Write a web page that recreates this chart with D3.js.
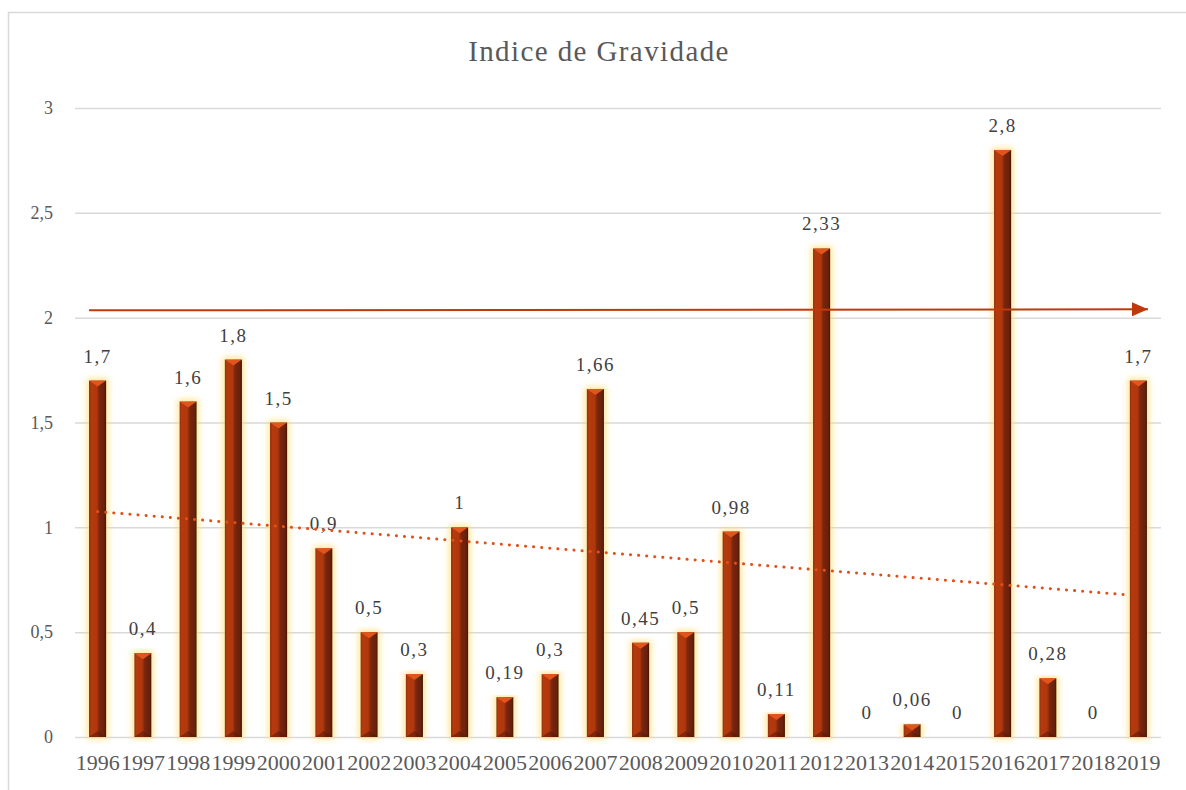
<!DOCTYPE html>
<html>
<head>
<meta charset="utf-8">
<title>Indice de Gravidade</title>
<script src="https://cdnjs.cloudflare.com/ajax/libs/d3/7.8.5/d3.min.js"></script>
</head>
<body style="margin:0;background:#fff">
<svg id="canvas" width="1186" height="790"></svg>
<script>
// data
var years = ["1996","1997","1998","1999","2000","2001","2002","2003","2004","2005","2006","2007",
             "2008","2009","2010","2011","2012","2013","2014","2015","2016","2017","2018","2019"];
var values = [1.7, 0.4, 1.6, 1.8, 1.5, 0.9, 0.5, 0.3, 1, 0.19, 0.3, 1.66,
              0.45, 0.5, 0.98, 0.11, 2.33, 0, 0.06, 0, 2.8, 0.28, 0, 1.7];
var yTicks = [0, 0.5, 1, 1.5, 2, 2.5, 3];
var trendEnds = [1.075, 0.677];   // dotted trend line, first and last year
var arrowEnds = [2.035, 2.04];    // arrow line level

var rows = years.map(function(yr, i) { return {year: yr, value: values[i]}; });
var FONT = "'Liberation Serif', 'Times New Roman', serif";

var svg = d3.select("#canvas");
var margin = {top: 108, right: 25, bottom: 53, left: 75};
var width = 1186 - margin.left - margin.right;
var height = 790 - margin.top - margin.bottom;

var fmt = function(v) { return String(v).replace(".", ","); };

// chart frame
svg.append("rect")
    .attr("x", 8.5).attr("y", 12.5)
    .attr("width", 1200).attr("height", 800)
    .attr("fill", "none")
    .attr("stroke", "#d9d9d9")
    .attr("stroke-width", 1.5);

svg.append("text")
    .attr("x", 599).attr("y", 61)
    .attr("text-anchor", "middle")
    .style("font-family", FONT)
    .style("font-size", "29px")
    .style("letter-spacing", "1.4px")
    .attr("fill", "#595959")
    .text("Indice de Gravidade");

var defs = svg.append("defs");
var grad = defs.append("linearGradient").attr("id", "barGrad")
    .attr("x1", "0%").attr("x2", "100%").attr("y1", "0%").attr("y2", "0%");
[["0%", "#8e2b0c"], ["12%", "#b53a10"], ["45%", "#b0370f"], ["60%", "#7a260a"],
 ["88%", "#672008"], ["100%", "#4a1505"]].forEach(function(s) {
    grad.append("stop").attr("offset", s[0]).attr("stop-color", s[1]);
});

var glow = defs.append("filter").attr("id", "glow")
    .attr("x", "-60%").attr("y", "-5%").attr("width", "220%").attr("height", "110%");
glow.append("feMorphology").attr("in", "SourceAlpha").attr("operator", "dilate")
    .attr("radius", 2).attr("result", "d");
glow.append("feGaussianBlur").attr("in", "d").attr("stdDeviation", 3).attr("result", "b");
glow.append("feFlood").attr("flood-color", "#ffd966").attr("flood-opacity", 0.7);
glow.append("feComposite").attr("in2", "b").attr("operator", "in").attr("result", "g");
var merge = glow.append("feMerge");
merge.append("feMergeNode").attr("in", "g");
merge.append("feMergeNode").attr("in", "SourceGraphic");

var g = svg.append("g")
    .attr("transform", "translate(" + margin.left + "," + margin.top + ")");

// scales
var x = d3.scaleBand().domain(years).range([0, width]).paddingInner(0.62).paddingOuter(0.31);
var y = d3.scaleLinear().domain([0, 3]).range([height, 0]);

// grid + y labels
var yAxis = g.append("g")
    .call(d3.axisLeft(y).tickValues(yTicks).tickSize(-width).tickFormat(fmt).tickPadding(22));
yAxis.select(".domain").remove();
yAxis.selectAll(".tick line").attr("stroke", "#d9d9d9").attr("stroke-width", 1.5);
yAxis.selectAll(".tick text")
    .style("font-family", FONT).style("font-size", "18px")
    .attr("fill", "#595959");

// x labels
var xAxis = g.append("g")
    .attr("transform", "translate(0," + height + ")")
    .call(d3.axisBottom(x).tickSize(0).tickPadding(17));
xAxis.select(".domain").remove();
xAxis.selectAll(".tick text")
    .style("font-family", FONT).style("font-size", "22px")
    .attr("fill", "#595959");

// bars
var bars = g.selectAll(".bar").data(rows.filter(function(d) { return d.value > 0; }))
  .enter().append("g")
    .attr("class", "bar")
    .attr("filter", "url(#glow)");

bars.append("rect")
    .attr("x", function(d) { return x(d.year); })
    .attr("y", function(d) { return y(d.value); })
    .attr("width", x.bandwidth())
    .attr("height", function(d) { return height - y(d.value); })
    .attr("fill", "url(#barGrad)");

// top bevel
bars.append("path")
    .attr("d", function(d) {
        var x0 = x(d.year), w = x.bandwidth(), t = y(d.value);
        var h = Math.min(6, height - t);
        return "M" + x0 + "," + t + "L" + (x0 + w) + "," + t + "L" + (x0 + w / 2) + "," + (t + h) + "Z";
    })
    .attr("fill", "#e0541c");

// bottom bevel
bars.filter(function(d) { return d.value > 0.05; }).append("path")
    .attr("d", function(d) {
        var x0 = x(d.year), w = x.bandwidth(), b = height;
        return "M" + x0 + "," + b + "L" + (x0 + w) + "," + b + "L" + (x0 + w / 2) + "," + (b - 6) + "Z";
    })
    .attr("fill", "#5a1a06").attr("opacity", 0.55);

// data labels
g.selectAll(".lbl").data(rows).enter().append("text")
    .attr("class", "lbl")
    .attr("x", function(d) { return x(d.year) + x.bandwidth() / 2; })
    .attr("y", function(d) { return y(d.value) - 18; })
    .attr("text-anchor", "middle")
    .style("font-family", FONT).style("font-size", "19px")
    .style("letter-spacing", "1.5px")
    .attr("fill", "#404040")
    .text(function(d) { return fmt(d.value); });

// arrow line
defs.append("marker").attr("id", "arrow")
    .attr("viewBox", "0 0 10 10").attr("refX", 10).attr("refY", 5)
    .attr("markerWidth", 8).attr("markerHeight", 7).attr("markerUnits", "strokeWidth")
    .attr("orient", "auto")
    .attr("preserveAspectRatio", "none")
    .append("path").attr("d", "M0,0L10,5L0,10Z").attr("fill", "#c0390b");

g.append("line")
    .attr("x1", x(years[0]))
    .attr("y1", y(arrowEnds[0]))
    .attr("x2", x(years[years.length - 1]) + x.bandwidth() + 1)
    .attr("y2", y(arrowEnds[1]))
    .attr("stroke", "#c0390b")
    .attr("stroke-width", 2)
    .attr("marker-end", "url(#arrow)");

// trend line
g.append("line")
    .attr("x1", x(years[0]) + x.bandwidth() / 2)
    .attr("y1", y(trendEnds[0]))
    .attr("x2", x(years[years.length - 1]))
    .attr("y2", y(trendEnds[1]))
    .attr("stroke", "#e0501a")
    .attr("stroke-width", 3)
    .attr("stroke-linecap", "round")
    .attr("stroke-dasharray", "0.1 8");
</script>
</body>
</html>
